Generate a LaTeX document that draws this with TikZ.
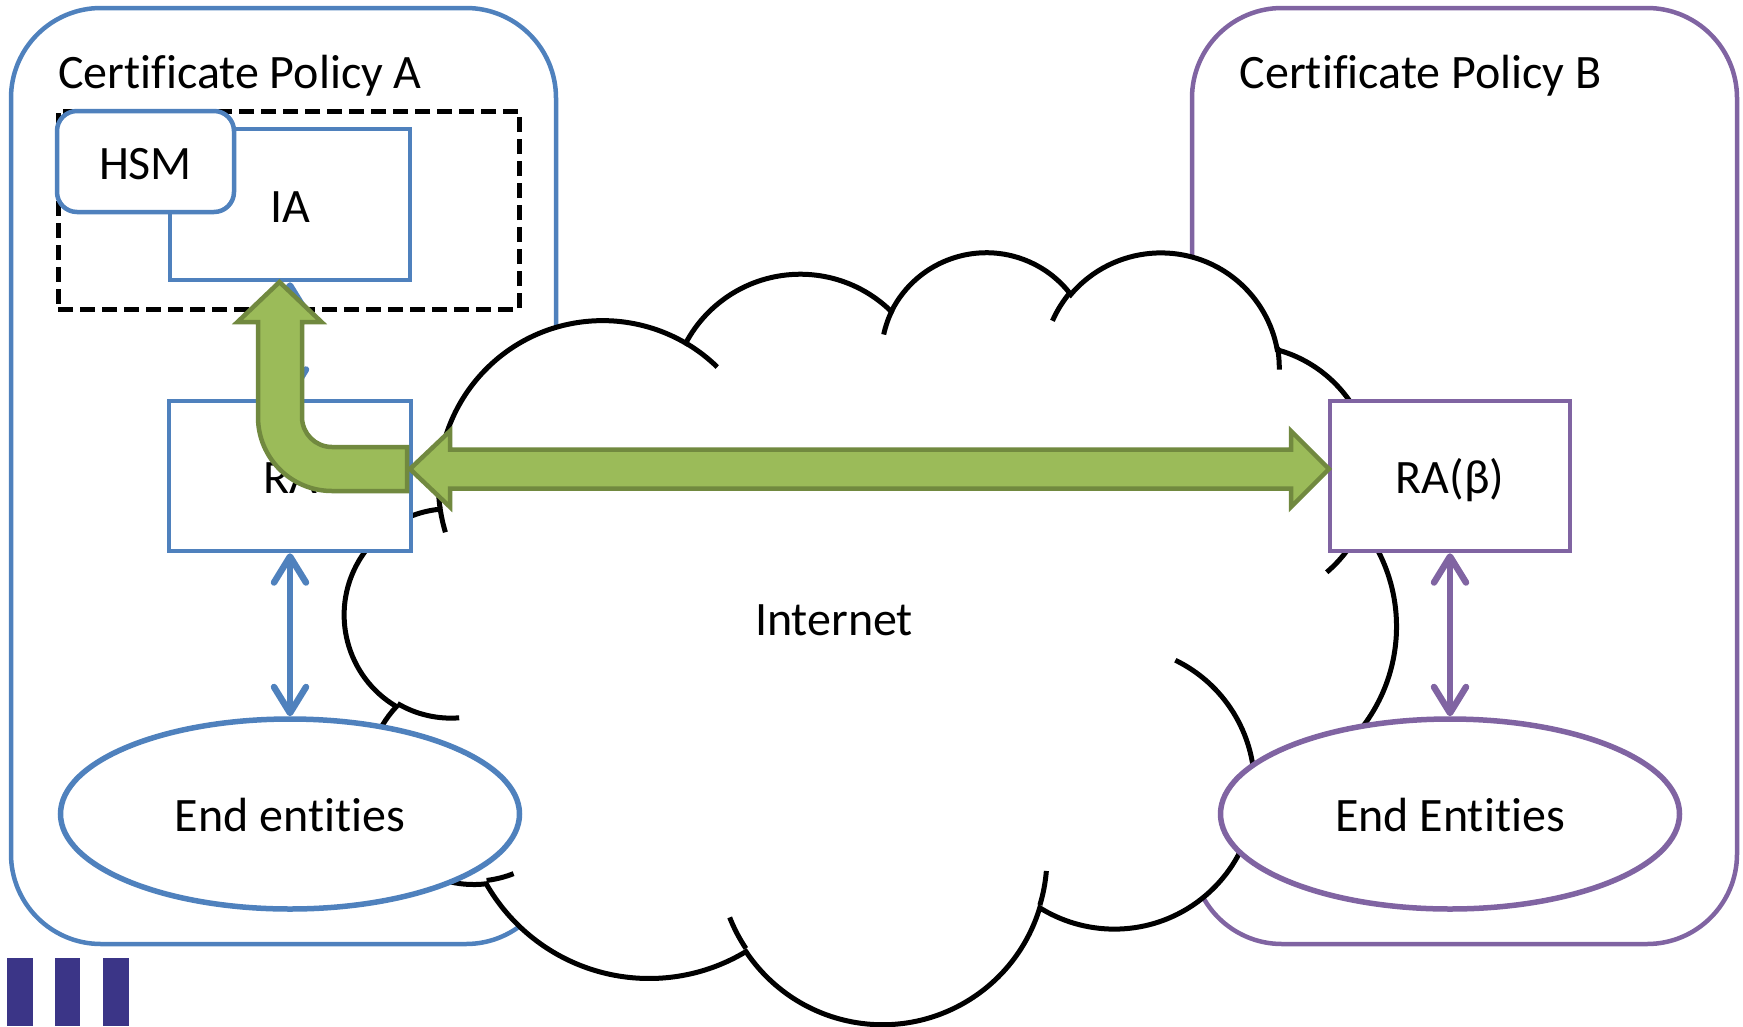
\documentclass[tikz,border=0pt]{standalone}
\usepackage{fontspec}
\setmainfont{Carlito}[Ligatures=NoCommon]
\usetikzlibrary{arrows.meta,shapes.geometric,calc}
\definecolor{pblue}{HTML}{4F81BD}
\definecolor{ppurple}{HTML}{8064A2}
\definecolor{gfill}{HTML}{9BBB59}
\definecolor{gline}{HTML}{71893F}
\definecolor{barc}{HTML}{3B3587}
% OOXML-style arcTo (visual angles) -> TikZ parametric arc
\newcommand\cldarc[4]{arc[start angle={atan2((#3)*sin(#1),(#4)*cos(#1))},delta angle={mod(atan2((#3)*sin((#1)+(#2)),(#4)*cos((#1)+(#2)))-atan2((#3)*sin(#1),(#4)*cos(#1))+720,360)},x radius=#3pt,y radius=#4pt]}
\begin{document}
\begin{tikzpicture}[x=1pt,y=1pt,yscale=-1,
  txt/.style={font=\fontsize{48}{57}\selectfont, inner sep=0pt},
  policyA/.style={draw=pblue, line width=4.5pt, rounded corners=90pt, minimum width=545pt, minimum height=936pt, inner sep=0pt},
  policyB/.style={policyA, draw=ppurple},
  bbox/.style={draw=pblue, line width=4.5pt, fill=white, rectangle, inner sep=0pt, text height=35pt, text depth=0pt, font=\fontsize{48}{57}\selectfont},
  pbox/.style={bbox, draw=ppurple},
  eell/.style={ellipse, draw=pblue, line width=5.5pt, fill=white, inner sep=0pt, minimum width=459pt, minimum height=190pt, text height=35pt, text depth=0pt, font=\fontsize{48}{57}\selectfont},
  dashbox/.style={draw=black, line width=5pt, dash pattern=on 15pt off 7pt, rectangle, inner sep=0pt},
  cloudline/.style={draw=black, line width=5pt},
  barrow/.style={draw=pblue, line width=6.5pt, {Straight Barb[length=26pt,width=32pt,round]}-{Straight Barb[length=26pt,width=32pt,round]}},
  parrow/.style={barrow, draw=ppurple},
  garrow/.style={fill=gfill, draw=gline, line width=4.5pt, line join=miter}
]
\useasboundingbox (0,0) rectangle (1743,1026);

% policy frames
\node[policyA] (cpa) at (283.5,476) {};
\node[policyB] (cpb) at (1464.5,476) {};
\node[txt, anchor=base west] (cpat) at (58,88.6) {Certificate Policy A};
\node[txt, anchor=base west] (cpbt) at (1239.5,88.6) {Certificate Policy B};

% secure zone with IA and HSM
\node[dashbox, minimum width=461pt, minimum height=198pt] (zone) at (288.5,210) {};
\node[bbox, minimum width=240pt, minimum height=151pt] (ia) at (290,204.5) {IA};
\node[bbox, minimum width=177pt, minimum height=101pt, rounded corners=20pt] (hsm) at (145.5,161.5) {HSM};

% cloud (Office cloud geometry, 432 x 432 units)
\begin{scope}[shift={(345,250.2)}, xscale=2.433, yscale=1.7863]
\path[cloudline, fill=white] (39.00,143.70)
  \cldarc{-190.4875}{123.7805}{67.53}{91.90}
  \cldarc{-144.1024}{89.9452}{53.33}{72.67}
  \cldarc{-145.8079}{99.7230}{43.65}{59.45}
  \cldarc{-130.9861}{117.2417}{48.57}{65.95}
  \cldarc{-78.7089}{109.0269}{53.33}{72.73}
  \cldarc{-46.2673}{130.2690}{67.75}{92.20}
  \cldarc{0.6250}{114.0333}{57.85}{78.67}
  \cldarc{22.4516}{115.1726}{67.52}{92.15}
  \cldarc{66.2426}{75.7110}{77.20}{105.43}
  \cldarc{-274.9421}{146.7356}{43.60}{59.18}
  \cldarc{-246.8285}{152.5189}{43.45}{59.45}
  -- cycle;
\path[cloudline]
  (46.93,261.77) \cldarc{86.7420}{26.4295}{43.45}{59.45}
  (69.28,348.99) \cldarc{73.6105}{11.4475}{43.60}{59.18}
  (164.78,390.90) \cldarc{137.6242}{14.0811}{67.52}{92.15}
  (288.27,347.51) \cldarc{6.4533}{15.9984}{67.52}{92.15}
  (341.29,229.54) \cldarc{-70.2924}{70.9174}{57.85}{78.67}
  (417.98,153.54) \cldarc{30.3180}{27.7515}{53.33}{72.73}
  (383.24,54.26) \cldarc{-13.7443}{14.8589}{48.57}{65.95}
  (290.78,39.52) \cldarc{-149.1815}{18.1954}{48.57}{65.95}
  (221.41,47.20) \cldarc{-163.4943}{17.6864}{43.65}{59.45}
  (140.00,51.92) \cldarc{-66.7070}{12.3194}{67.53}{91.90}
  (41.27,157.89) \cldarc{157.6544}{11.8582}{67.53}{91.90};
\end{scope}
\node[txt] (inet) at (834,620) {Internet};

% registration authorities and end entities
\node[bbox, minimum width=242pt, minimum height=150pt] (ra) at (290,476) {RA};
\node[pbox, minimum width=240pt, minimum height=150pt] (rab) at (1450,476) {RA(β)};
\node[eell] (eea) at (290,814) {End entities};
\node[eell, draw=ppurple] (eeb) at (1450,814) {End Entities};

\draw[barrow] (ra.south) -- (eea.north);
\draw[parrow] (rab.south) -- (eeb.north);
\draw[barrow] (ia.south) -- (ra.north);

% green arrows
\coordinate (gL) at (410,469);
\coordinate (gR) at (1329,469);
\draw[garrow] (gL) -- ++(40,-38) -- ++(0,18.5) -- ($(gR)+(-38,-19.5)$) -- ++(0,-18.5) -- (gR)
  -- ++(-38,38) -- ++(0,-18.5) -- ($(gL)+(40,19.5)$) -- ++(0,18.5) -- cycle;
\coordinate (gT) at (279.5,282);
\coordinate (gE) at (407,491);
\draw[garrow] (gT) -- (237.5,322) -- (258,322) -- (258,417) arc[start angle=180, end angle=90, radius=74pt]
  -- (gE) -- (407,447) -- (332,447) arc[start angle=90, end angle=180, radius=30pt]
  -- (302,322) -- (321.5,322) -- cycle;

% logo bars
\fill[barc] (7,958) rectangle (32.5,1026);
\fill[barc] (54.7,958) rectangle (80.4,1026);
\fill[barc] (103,958) rectangle (129,1026);
\end{tikzpicture}
\end{document}
